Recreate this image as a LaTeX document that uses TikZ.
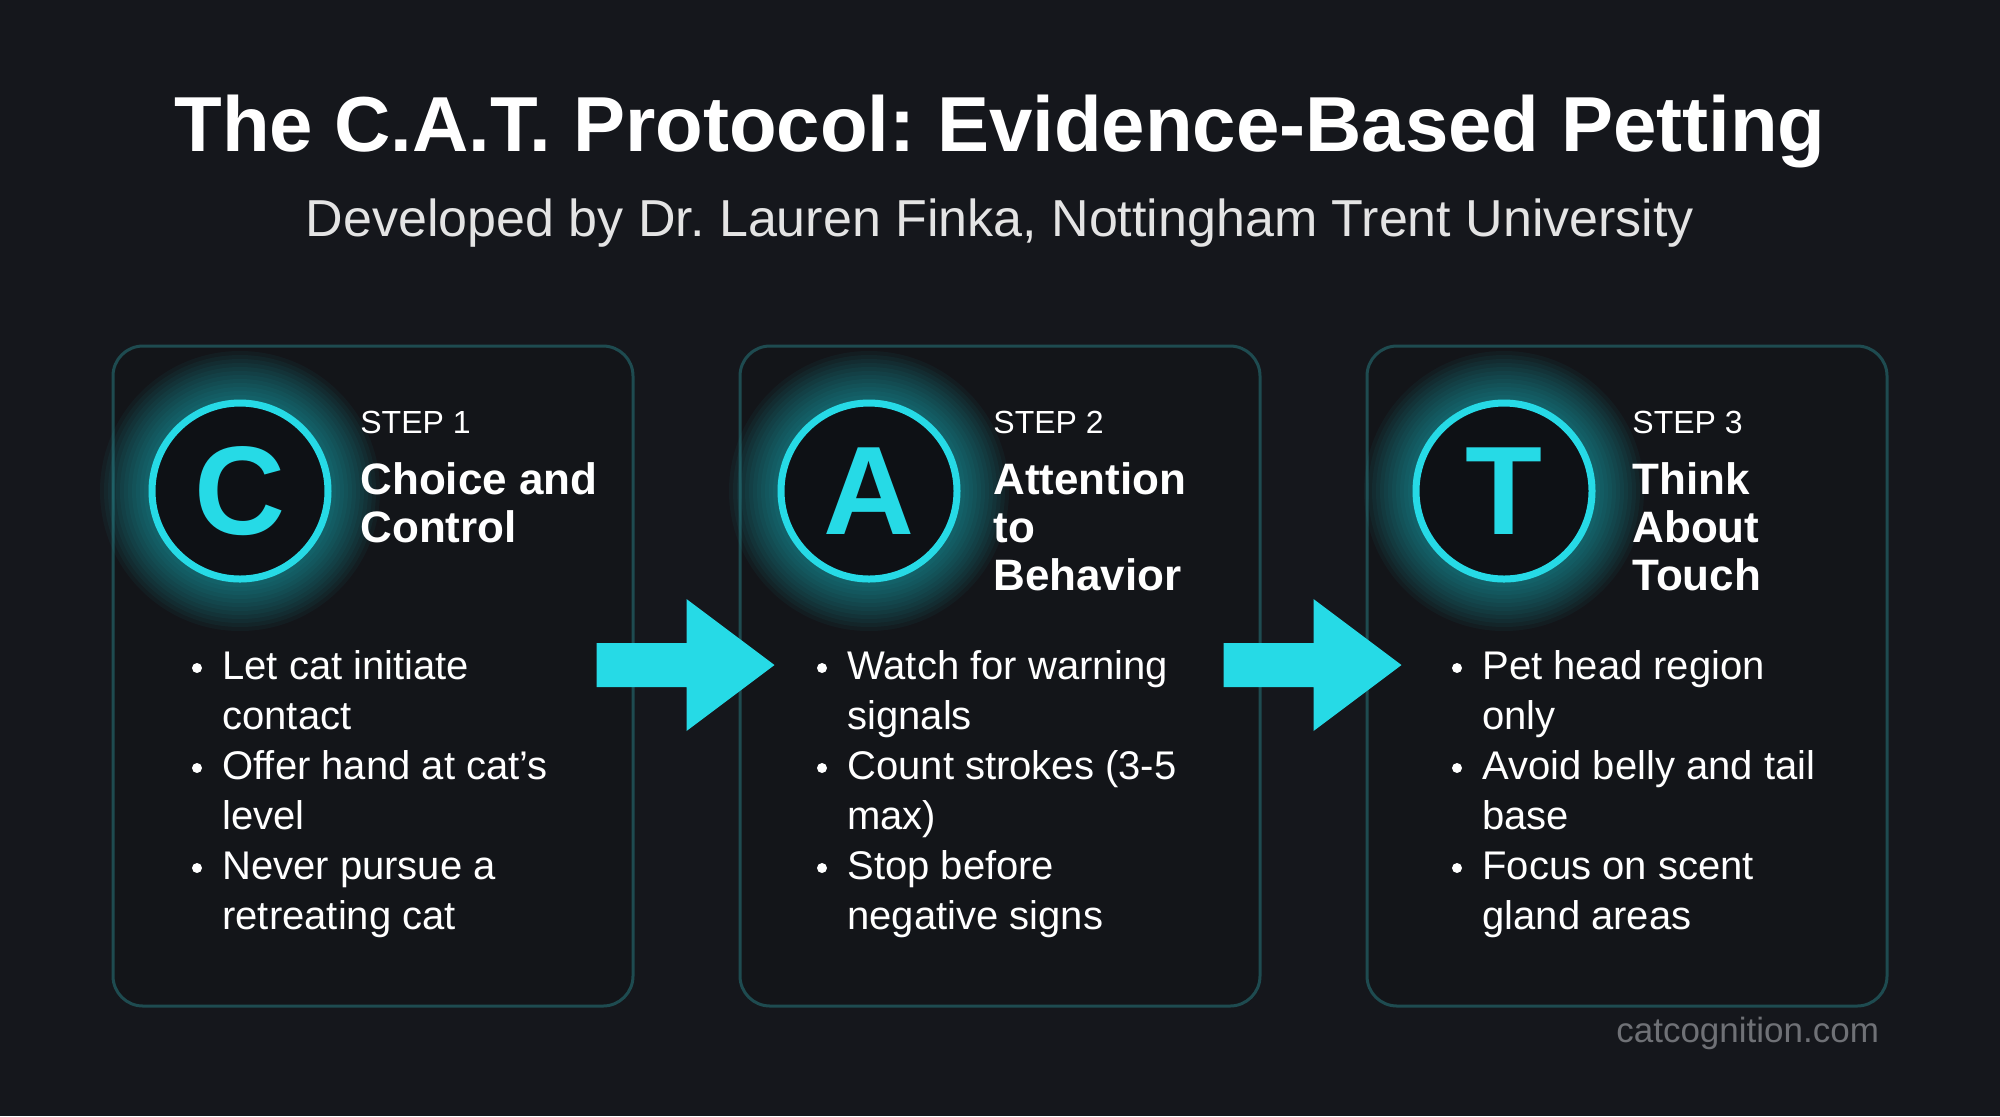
\documentclass[tikz,border=0pt]{standalone}
\usepackage{fontspec}
\setmainfont{Liberation Sans}
\usetikzlibrary{calc}
\frenchspacing

\definecolor{pagebg}{HTML}{15171C}
\definecolor{cardfill}{HTML}{131519}
\definecolor{cardedge}{HTML}{1E4B50}
\definecolor{catcyan}{HTML}{26DAE6}
\definecolor{ringfill}{HTML}{0E1115}
\definecolor{subgray}{HTML}{E4E4E4}
\definecolor{footgray}{HTML}{6F7176}

\begin{document}
\begin{tikzpicture}[x=0.5pt,y=-0.5pt,
  card/.style={draw=cardedge, fill=cardfill, line width=1.5pt, rounded corners=15pt,
    minimum width=260pt, minimum height=330pt, inner sep=0pt},
  ring/.style={circle, draw=catcyan, fill=ringfill, line width=3.5pt, minimum size=88pt,
    inner sep=0pt, text=catcyan, font=\fontsize{63pt}{63pt}\selectfont\bfseries},
  steplabel/.style={anchor=base west, text=white, inner sep=0pt,
    font=\fontsize{16pt}{16pt}\selectfont},
  stephead/.style={anchor=base west, align=left, text=white, inner sep=0pt,
    font=\fontsize{22pt}{24pt}\selectfont\bfseries},
  item/.style={anchor=base west, align=left, text=white, inner sep=0pt,
    font=\fontsize{20pt}{25pt}\selectfont},
  flow/.style={fill=catcyan}]
\useasboundingbox (0,0) rectangle (2000,1116);
\fill[pagebg] (0,0) rectangle (2000,1116);

% heading
\node[anchor=base, text=white, font=\fontsize{39pt}{39pt}\selectfont\bfseries] (title) at (1000,151)
  {The C.A.T. Protocol: Evidence-Based Petting};
\node[anchor=base, text=subgray, font=\fontsize{26pt}{26pt}\selectfont] (sub) at (1000,236)
  {Developed by Dr. Lauren Finka, Nottingham Trent University};

% cards
\node[card] (card1) at (373,676) {};
\node[card] (card2) at (1000,676) {};
\node[card] (card3) at (1627,676) {};

% arrows between cards
\coordinate (m12) at ($(card1.east)!0.5!(card2.west)$);
\coordinate (m23) at ($(card2.east)!0.5!(card3.west)$);
\fill[flow] ($(m12)+(-90,-33)$) -- ++(90,0) -- ++(0,-44) -- ($(m12)+(88,-11)$)
  -- ($(m12)+(0,55)$) -- ++(0,-44) -- ($(m12)+(-90,11)$) -- cycle;
\fill[flow] ($(m23)+(-90,-33)$) -- ++(90,0) -- ++(0,-44) -- ($(m23)+(88,-11)$)
  -- ($(m23)+(0,55)$) -- ++(0,-44) -- ($(m23)+(-90,11)$) -- cycle;

% glow behind the letters
\coordinate (g1) at (240,491);
\coordinate (g2) at (869,491);
\coordinate (g3) at (1504,491);
\foreach \r in {140,136,...,92} {
  \fill[catcyan, opacity=0.045] (g1) circle (\r);
  \fill[catcyan, opacity=0.045] (g2) circle (\r);
  \fill[catcyan, opacity=0.045] (g3) circle (\r);
}
\node[ring] (ringC) at (g1) {C};
\node[ring] (ringA) at (g2) {A};
\node[ring] (ringT) at (g3) {T};

% step 1 (base anchor sits on the last line)
\node[steplabel] (s1) at (360,433) {STEP 1};
\node[stephead] (h1) at (360,542) {Choice and\\Control};
\node[item] (c1i1) at (222,729) {Let cat initiate\\contact};
\node[item] (c1i2) at (222,829) {Offer hand at cat’s\\level};
\node[item] (c1i3) at (222,929) {Never pursue a\\retreating cat};

% step 2
\node[steplabel] (s2) at (993,433) {STEP 2};
\node[stephead] (h2) at (993,590) {Attention\\to\\Behavior};
\node[item] (c2i1) at (847,729) {Watch for warning\\signals};
\node[item] (c2i2) at (847,829) {Count strokes (3-5\\max)};
\node[item] (c2i3) at (847,929) {Stop before\\negative signs};

% step 3
\node[steplabel] (s3) at (1632,433) {STEP 3};
\node[stephead] (h3) at (1632,590) {Think\\About\\Touch};
\node[item] (c3i1) at (1482,729) {Pet head region\\only};
\node[item] (c3i2) at (1482,829) {Avoid belly and tail\\base};
\node[item] (c3i3) at (1482,929) {Focus on scent\\gland areas};

% bullets, next to the first line
\foreach \b in {c1i1,c1i2,c1i3,c2i1,c2i2,c2i3,c3i1,c3i2,c3i3}
  \fill[white] ($(\b.base west)+(-25,-61)$) circle (5);

\node[anchor=base east, text=footgray, font=\fontsize{17.5pt}{17.5pt}\selectfont] (site) at (1886,1042)
  {catcognition.com};
\end{tikzpicture}
\end{document}
